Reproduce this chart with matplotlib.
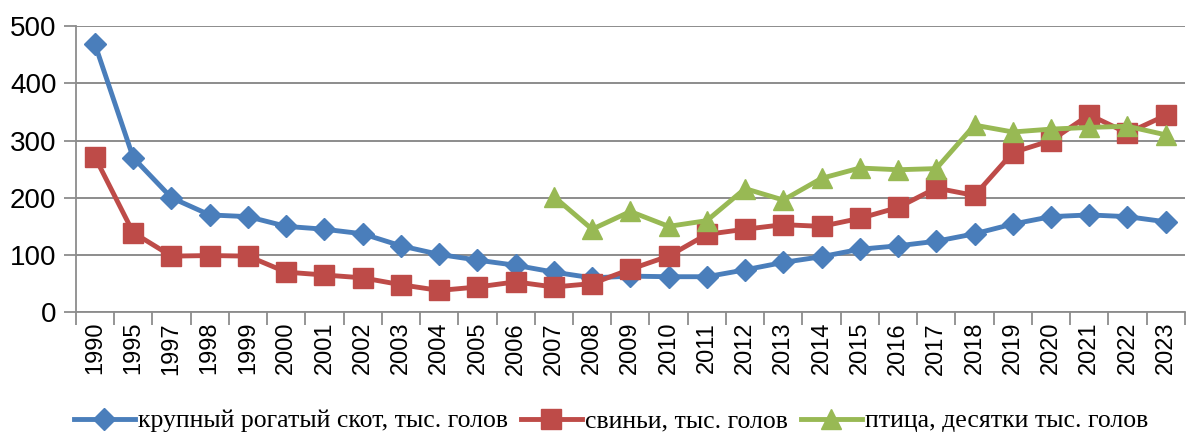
import matplotlib.pyplot as plt
import numpy as np

years = ['1990', '1995', '1997', '1998', '1999', '2000', '2001', '2002', '2003', '2004',
         '2005', '2006', '2007', '2008', '2009', '2010', '2011', '2012', '2013', '2014',
         '2015', '2016', '2017', '2018', '2019', '2020', '2021', '2022', '2023']

cattle = [468, 270, 200, 170, 167, 150, 145, 137, 116, 101,
          91, 82, 70, 60, 63, 62, 62, 74, 87, 97,
          110, 116, 124, 137, 154, 167, 170, 167, 158]

pigs = [271, 139, 98, 99, 98, 70, 65, 60, 48, 38,
        44, 53, 44, 50, 75, 98, 136, 145, 153, 150,
        164, 183, 217, 204, 279, 300, 345, 313, 344]

# poultry starts in 2007
poultry_years = years[12:]
poultry = [202, 145, 176, 150, 160, 216, 196, 234, 252, 249,
           251, 327, 315, 320, 323, 325, 310]

labels = ['крупный рогатый скот, тыс. голов', 'свиньи, тыс. голов',
          'птица, десятки тыс. голов']

x = np.arange(len(years))
xp = np.array([years.index(y) for y in poultry_years])

fig = plt.figure(figsize=(11.86, 4.36), dpi=100)
ax = fig.add_axes([0.064, 0.284, 0.935, 0.656])

ax.plot(x, cattle, color='#4A7EBB', lw=3.5, marker='D', markersize=11, label=labels[0])
ax.plot(x, pigs, color='#BE4B48', lw=3.5, marker='s', markersize=14, label=labels[1])
ax.plot(xp, poultry, color='#98B954', lw=3.5, marker='^', markersize=15, label=labels[2])

ax.set_xlim(-0.5, len(years) - 0.5)
ax.set_ylim(0, 500)
ax.set_yticks(range(0, 501, 100))
ax.set_xticks(x)
ax.set_xticklabels(years, rotation=90, fontfamily='Liberation Sans', fontsize=17)
ax.set_xticks(np.arange(-0.5, len(years), 1), minor=True)
ax.tick_params(axis='x', which='major', length=0, pad=7)
ax.tick_params(axis='x', which='minor', length=9, color='#8c8c8c', width=1.3)
ax.tick_params(axis='y', length=9, color='#8c8c8c', width=1.3, labelsize=20, pad=5)
for t in ax.get_yticklabels():
    t.set_fontfamily('Liberation Sans')

ax.grid(axis='y', color='#8c8c8c', lw=1.4)
ax.set_axisbelow(True)
for s in ['top', 'right']:
    ax.spines[s].set_visible(False)
for s in ['left', 'bottom']:
    ax.spines[s].set_color('#8c8c8c')
    ax.spines[s].set_linewidth(1.3)

fig.legend(loc='lower center', bbox_to_anchor=(0.515, -0.045), ncol=3, frameon=False,
           prop={'family': 'Liberation Serif', 'size': 18.5}, handlelength=2.4,
           handletextpad=0.1, columnspacing=0.5)

fig.savefig('out.png', dpi=100)
